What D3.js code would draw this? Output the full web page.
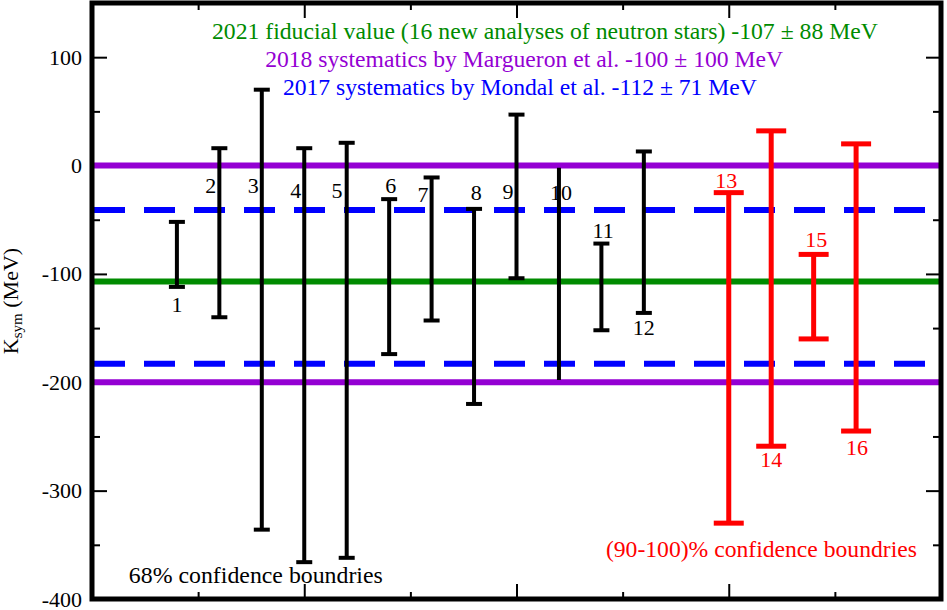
<!DOCTYPE html>
<html>
<head>
<meta charset="utf-8">
<script src="https://cdn.jsdelivr.net/npm/d3@7/dist/d3.min.js"></script>
<style>
  html, body { margin: 0; padding: 0; background: #fff; }
  svg text { font-family: 'Liberation Serif', 'DejaVu Serif', serif; }
</style>
</head>
<body>
<svg id="chart" width="947" height="610"></svg>
<script>
// ---------------- data ----------------
const categories = ["1","2","3","4","5","6","7","8","9","10","11","12","13","14","15","16"];
const xPos   = [2, 3, 4, 5, 6, 7, 8, 9, 10, 11, 12, 13, 15, 16, 17, 18];
const upper  = [-52, 16, 70, 16, 21, -31, -11, -40, 47, -2, -72, 13, -25, 32, -82, 20];
const lower  = [-112, -140, -336, -366, -362, -174, -143, -220, -104, -198, -152, -136, -330, -259, -160, -245];
const confidence = ["68","68","68","68","68","68","68","68","68","68","68","68","90-100","90-100","90-100","90-100"];
const hasCaps = [true,true,true,true,true,true,true,true,true,false,true,true,true,true,true,true];
// label anchors (data units)
const labelX = [2, 2.8, 3.8, 4.8, 5.77, 7.04, 7.8, 9.05, 9.8, 11.05, 12.04, 13, 14.94, 16, 17.06, 18.02];
const labelY = [-135, -25, -25, -30, -30, -25, -34, -32, -31, -32, -67, -156, -21, -278, -75, -267];

const refNames   = ["2021 fiducial value (16 new analyses of neutron stars)", "2018 systematics by Margueron et al.", "2017 systematics by Mondal et al."];
const refCenter  = [-107, -100, -112];
const refError   = [88, 100, 71];
const refTextX   = [10.67, 10.18, 10.08];
const refTextY   = [116.7, 90.9, 65.1];

const yMajorTicks = [-400, -300, -200, -100, 0, 100];
const yMinorTicks = [-350, -250, -150, -50, 50];
const xMajorTicks = [0, 5, 10, 15, 20];
const xMinorTicks = [2.5, 7.5, 12.5, 17.5];

const notes = ["68% confidence boundries", "(90-100)% confidence boundries"];
const noteX = [3.86, 15.77];
const noteY = [-385.3, -361.3];

// ---------------- layout ----------------
const W = 947, H = 610;
const pLeft = 92, pRight = 941, pTop = 3, pBottom = 599;
const refTextWidths = [666, 518, 474];
const noteWidths = [254, 311];
const svg = d3.select("#chart");
const x = d3.scaleLinear().domain([0, 20]).range([pLeft, pRight]);
const y = d3.scaleLinear().domain([-400, 150]).range([pBottom, pTop]);

const colors = { green: "#008b00", violet: "#9400d3", blue: "#0000ff", red: "#ff0000", black: "#000000" };
const refColors = [colors.green, colors.violet, colors.blue];
const barColor = c => c === "68" ? colors.black : colors.red;
const capW = c => c === "68" ? 16 : 30;
const barW = c => c === "68" ? 4 : 5;

svg.append("rect").attr("width", W).attr("height", H).attr("fill", "#fff");

// ---------------- axes (inward ticks) ----------------
function styleAxis(g) {
  g.select(".domain").remove();
  g.attr("font-family", null);
  g.selectAll(".tick line").attr("stroke", "#000").attr("stroke-width", 2);
  g.selectAll(".tick text").attr("font-size", 22).attr("fill", "#000");
}
svg.append("g").attr("transform", `translate(${pLeft},0)`)
  .call(d3.axisLeft(y).tickValues(yMajorTicks).tickSizeInner(-15).tickSizeOuter(0).tickPadding(10).tickFormat(d => String(d)))
  .call(styleAxis);
svg.append("g").attr("transform", `translate(${pLeft},0)`)
  .call(d3.axisLeft(y).tickValues(yMinorTicks).tickSizeInner(-8).tickSizeOuter(0).tickFormat(""))
  .call(styleAxis);
svg.append("g").attr("transform", `translate(${pRight},0)`)
  .call(d3.axisRight(y).tickValues(yMajorTicks).tickSizeInner(-15).tickSizeOuter(0).tickFormat(""))
  .call(styleAxis);
svg.append("g").attr("transform", `translate(${pRight},0)`)
  .call(d3.axisRight(y).tickValues(yMinorTicks).tickSizeInner(-8).tickSizeOuter(0).tickFormat(""))
  .call(styleAxis);
svg.append("g").attr("transform", `translate(0,${pBottom})`)
  .call(d3.axisBottom(x).tickValues(xMajorTicks).tickSizeInner(-15).tickSizeOuter(0).tickFormat(""))
  .call(styleAxis);
svg.append("g").attr("transform", `translate(0,${pBottom})`)
  .call(d3.axisBottom(x).tickValues(xMinorTicks).tickSizeInner(-7).tickSizeOuter(0).tickFormat(""))
  .call(styleAxis);
svg.append("g").attr("transform", `translate(0,${pTop})`)
  .call(d3.axisTop(x).tickValues(xMajorTicks).tickSizeInner(-15).tickSizeOuter(0).tickFormat(""))
  .call(styleAxis);
svg.append("g").attr("transform", `translate(0,${pTop})`)
  .call(d3.axisTop(x).tickValues(xMinorTicks).tickSizeInner(-7).tickSizeOuter(0).tickFormat(""))
  .call(styleAxis);

// ---------------- reference lines ----------------
const refLines = [
  { v: refCenter[0], c: refColors[0], dash: null },
  { v: refCenter[1] + refError[1], c: refColors[1], dash: null },
  { v: refCenter[1] - refError[1], c: refColors[1], dash: null },
  { v: refCenter[2] + refError[2], c: refColors[2], dash: "31,19" },
  { v: refCenter[2] - refError[2], c: refColors[2], dash: "31,19" }
];
svg.append("g").selectAll("line").data(refLines).join("line")
  .attr("x1", x(0) + 2).attr("x2", x(20) - 2)
  .attr("y1", d => y(d.v)).attr("y2", d => y(d.v))
  .attr("stroke", d => d.c).attr("stroke-width", 6)
  .attr("stroke-dasharray", d => d.dash);

// ---------------- error bars ----------------
const bars = categories.map((c, i) => ({
  name: c, x: xPos[i], hi: upper[i], lo: lower[i], conf: confidence[i], caps: hasCaps[i],
  lx: labelX[i], ly: labelY[i]
}));
const gb = svg.append("g");
gb.selectAll("line.stem").data(bars).join("line").attr("class", "stem")
  .attr("x1", d => x(d.x)).attr("x2", d => x(d.x))
  .attr("y1", d => y(d.hi)).attr("y2", d => y(d.lo))
  .attr("stroke", d => barColor(d.conf)).attr("stroke-width", d => barW(d.conf));
const caps = bars.filter(d => d.caps).flatMap(d => [{ d, v: d.hi }, { d, v: d.lo }]);
gb.selectAll("line.cap").data(caps).join("line").attr("class", "cap")
  .attr("x1", c => x(c.d.x) - capW(c.d.conf) / 2).attr("x2", c => x(c.d.x) + capW(c.d.conf) / 2)
  .attr("y1", c => y(c.v)).attr("y2", c => y(c.v))
  .attr("stroke", c => barColor(c.d.conf)).attr("stroke-width", c => barW(c.d.conf));
gb.selectAll("text").data(bars).join("text")
  .attr("x", d => x(d.lx)).attr("y", d => y(d.ly))
  .attr("text-anchor", "middle").attr("font-size", 22)
  .attr("fill", d => barColor(d.conf)).text(d => d.name);

// ---------------- frame ----------------
svg.append("rect").attr("x", pLeft).attr("y", pTop).attr("width", pRight - pLeft).attr("height", pBottom - pTop)
  .attr("fill", "none").attr("stroke", "#000").attr("stroke-width", 5);

// ---------------- annotations ----------------
svg.append("g").selectAll("text").data(refNames).join("text")
  .attr("x", (d, i) => x(refTextX[i])).attr("y", (d, i) => y(refTextY[i]))
  .attr("text-anchor", "middle").attr("font-size", 23)
  .attr("textLength", (d, i) => refTextWidths[i]).attr("lengthAdjust", "spacingAndGlyphs")
  .attr("fill", (d, i) => refColors[i])
  .text((d, i) => `${d} ${refCenter[i]} \u00b1 ${refError[i]} MeV`);

svg.append("g").selectAll("text").data(notes).join("text")
  .attr("x", (d, i) => x(noteX[i])).attr("y", (d, i) => y(noteY[i]))
  .attr("text-anchor", "middle").attr("font-size", 23)
  .attr("textLength", (d, i) => noteWidths[i]).attr("lengthAdjust", "spacingAndGlyphs")
  .attr("fill", (d, i) => i === 0 ? colors.black : colors.red)
  .text(d => d);

// y axis title
const yt = svg.append("text")
  .attr("transform", `translate(18,${(pTop + pBottom) / 2}) rotate(-90)`)
  .attr("text-anchor", "middle").attr("font-size", 22).attr("fill", "#000");
yt.append("tspan").text("K");
yt.append("tspan").attr("font-size", 15).attr("baseline-shift", "-25%").text("sym");
yt.append("tspan").text(" (MeV)");
</script>
</body>
</html>
